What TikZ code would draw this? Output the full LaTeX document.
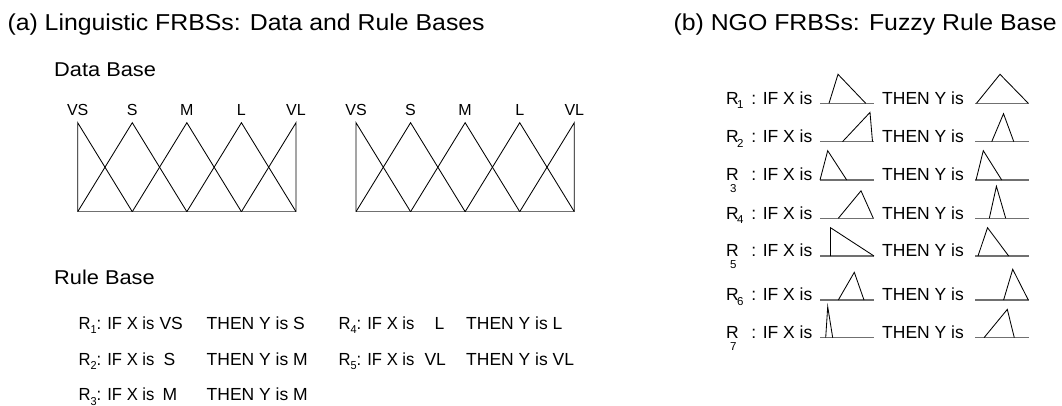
\documentclass[tikz,border=0pt]{standalone}
\usepackage{fontspec}
\setmainfont{Liberation Sans}
\usepackage{graphicx}

% horizontally widened or narrowed text
\newcommand{\wtext}[2]{\scalebox{#1}[1]{#2}}
% lowered rule index
\newcommand{\rsub}[1]{\raisebox{-4.6pt}{\fontsize{11.5}{12}\selectfont #1}}

\definecolor{axisgray}{RGB}{112,112,112}

\tikzset{
  titletxt/.style={inner sep=0pt, font=\fontsize{23}{26}\selectfont},
  headtxt/.style={inner sep=0pt, anchor=base west, font=\fontsize{20}{23}\selectfont},
  lbl/.style={inner sep=0pt, anchor=base, font=\fontsize{16}{18}\selectfont},
  ruletxt/.style={inner sep=0pt, anchor=base west, font=\fontsize{17.5}{19}\selectfont},
  subtxt/.style={inner sep=0pt, anchor=base west, font=\fontsize{11.5}{12}\selectfont},
  mfline/.style={draw=black, line width=0.85pt, line join=miter},
  axisline/.style={draw=axisgray, line width=1.5pt},
}

\begin{document}
\begin{tikzpicture}[x=1pt, y=-1pt]
\useasboundingbox (0,0) rectangle (1062,405);

% ---------- titles ----------
\node[titletxt, anchor=base west] (title-a) at (7.3,30) {\wtext{1.08}{(a) Linguistic FRBSs: Data and Rule Bases}};
\node[titletxt, anchor=base east] (title-b) at (1057,30) {\wtext{1.08}{(b) NGO FRBSs: Fuzzy Rule Base}};

% ---------- data base: two uniform partitions ----------
\node[headtxt] (db-head) at (54,76) {\wtext{1.09}{Data Base}};

\foreach \bx/\bn in {77.7/in, 356/out} {
  \draw[axisline] (\bx,211.7) -- (\bx+218.3,211.7);
  \draw[mfline] (\bx,211.7) -- (\bx,122.7) -- (\bx+54.575,211.7);
  \foreach \i in {1,2,3}
    \draw[mfline] (\bx+\i*54.575-54.575,211.7) -- (\bx+\i*54.575,122.7) -- (\bx+\i*54.575+54.575,211.7);
  \draw[mfline] (\bx+163.725,211.7) -- (\bx+218.3,122.7) -- (\bx+218.3,211.7);
  \foreach \i/\t in {0/VS, 1/S, 2/M, 3/L, 4/VL}
    \node[lbl] (lab-\bn-\t) at (\bx+\i*54.575,115) {\t};
}

% ---------- rule base ----------
\node[headtxt] (rb-head) at (54,284.3) {\wtext{1.09}{Rule Base}};

\foreach \k/\rx/\ry/\vx/\v/\tx/\c in {
    1/78.3/329.3/159.3/VS/206.5/S,
    2/78.3/365/163.3/S/206.5/M,
    3/78.3/400.5/162.3/M/206.5/M,
    4/338.3/329.3/434.3/L/466/L,
    5/338.3/365/424.3/VL/466/VL} {
  \node[ruletxt] (lr-if\k) at (\rx,\ry) {\wtext{0.95}{R\rsub{\k}: IF X is}};
  \node[ruletxt] (lr-v\k) at (\vx,\ry) {\v};
  \node[ruletxt] (lr-then\k) at (\tx,\ry) {THEN Y is \c};
}

% ---------- NGO fuzzy rule base ----------
% index / axis y / index x / index drop / antecedent (left, peak, right, height) / consequent (left, peak, right, height)
\foreach \k/\y/\sx/\sd/\al/\ap/\ar/\ah/\bl/\bp/\br/\bh in {
    1/103.3/737/4.6/829/838/865.7/29/976.5/1000/1028.3/29,
    2/141.7/737/4.6/842.5/870/872.5/29.3/991.7/1003.5/1013.8/28,
    3/180/730/12/820/827.7/846.7/29.3/976/983.3/1001.7/29.3,
    4/218.3/737/4.6/838.3/861/873.3/27.5/989.3/996.4/1005.7/32,
    5/256/730/12/830.5/830.5/874/28.3/978/987.5/1008.7/28.3,
    6/300/737/4.6/838.3/854.3/864/27.7/1003.6/1012.7/1028.3/30.7,
    7/337.7/730/12/825.7/827.7/832.7/31/984/1007.3/1014.3/28.3} {
  \node[ruletxt] (ngo-R\k) at (726,\y+0.7) {R};
  \node[subtxt] (ngo-s\k) at (\sx,\y+0.7+\sd) {\k};
  \node[ruletxt] (ngo-if\k) at (751.2,\y+0.7) {: IF X is};
  \node[ruletxt] (ngo-then\k) at (882,\y+0.7) {THEN Y is};
  \draw[axisline] (820,\y) -- (874.3,\y);
  \draw[axisline] (975,\y) -- (1029,\y);
  \draw[mfline] (\al,\y) -- (\ap,\y-\ah) -- (\ar,\y);
  \draw[mfline] (\bl,\y) -- (\bp,\y-\bh) -- (\br,\y);
}
\end{tikzpicture}
\end{document}
